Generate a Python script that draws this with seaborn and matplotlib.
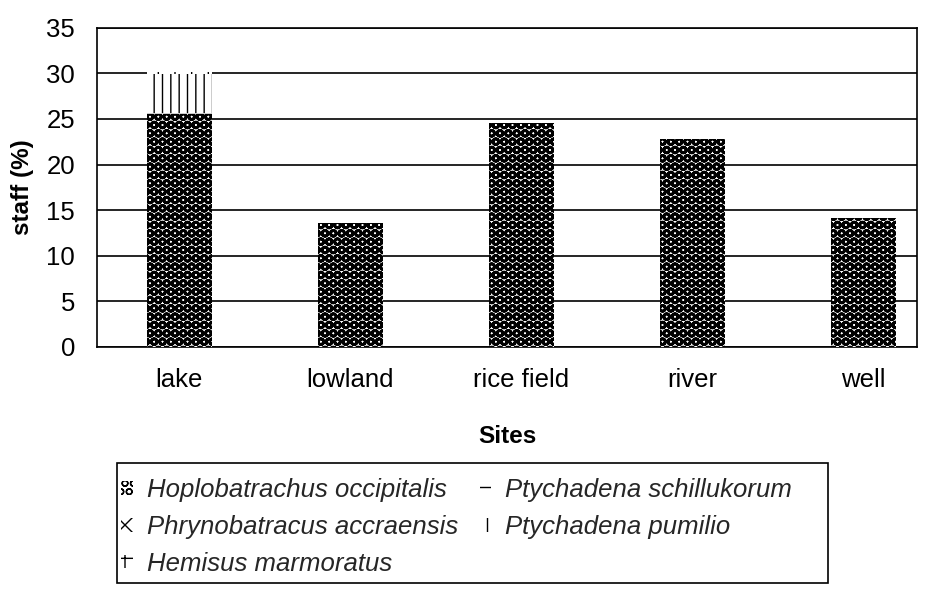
import matplotlib
matplotlib.use("Agg")
import matplotlib.pyplot as plt
import seaborn as sns
import pandas as pd
import numpy as np
from matplotlib.patches import Patch, Rectangle

sites = ["lake", "lowland", "rice field", "river", "well"]
species = ["Hoplobatrachus occipitalis", "Ptychadena schillukorum",
           "Phrynobatracus accraensis", "Ptychadena pumilio", "Hemisus marmoratus"]
hoplobatrachus = [25.5, 13.6, 24.6, 22.8, 14.1]
schillukorum = [0.2, 0.0, 0.1, 0.0, 0.0]
phrynobatracus = [0.0, 0.0, 0.0, 0.0, 0.0]
pumilio = [4.2, 0.0, 0.0, 0.0, 0.0]
hemisus = [0.3, 0.0, 0.0, 0.0, 0.0]

series = [hoplobatrachus, schillukorum, phrynobatracus, pumilio, hemisus]
hatches = ["OO", "--", "xx", "||", "+"]
hlw = [2.0, 1.0, 1.0, 1.0, 1.0]

sns.set_theme(style="white")
plt.rcParams["font.family"] = ["Liberation Sans", "DejaVu Sans"]
plt.rcParams["hatch.linewidth"] = 1.0

fig = plt.figure(figsize=(9.34, 5.92), dpi=100)
ax = fig.add_axes([0.104, 0.414, 0.878, 0.539])

cum = np.cumsum(np.array(series), axis=0)
for i in range(len(series) - 1, -1, -1):
    df = pd.DataFrame({"site": sites, "value": cum[i]})
    sns.barplot(data=df, x="site", y="value", ax=ax, color="white",
                width=0.38, hatch=hatches[i], edgecolor="black", linewidth=0,
                zorder=3)
    for bar in ax.containers[-1]:
        try:
            bar.set_hatch_linewidth(hlw[i])
        except AttributeError:
            pass

ax.set_xlim(-0.48, 4.316)
ax.set_ylim(0, 35)
ax.set_yticks(range(0, 36, 5))
ax.yaxis.grid(True, color="black", linewidth=1.2, zorder=0)
ax.set_axisbelow(True)
for s in ax.spines.values():
    s.set_color("black")
    s.set_linewidth(1.2)
ax.tick_params(axis="x", labelsize=18.5, colors="black", length=0, pad=15)
ax.tick_params(axis="y", labelsize=18.5, colors="black", length=0, pad=16)
ax.set_xlabel("Sites", fontsize=17.5, fontweight="bold", labelpad=24, color="black")
ax.set_ylabel("staff (%)", fontsize=17.5, fontweight="bold", labelpad=9, color="black")

handles = []
for i in range(5):
    p = Patch(facecolor="white", hatch=hatches[i], edgecolor="black",
              linewidth=0, label=species[i])
    try:
        p.set_hatch_linewidth(hlw[i])
    except AttributeError:
        pass
    handles.append(p)
order = [0, 2, 4, 1, 3]
leg = fig.legend([handles[i] for i in order], [species[i] for i in order],
                 ncol=2, loc="upper left",
                 bbox_to_anchor=(121 / 934, 1 - 478 / 592),
                 frameon=False,
                 prop={"size": 18.5, "style": "italic"},
                 handlelength=0.45, handleheight=0.45, handletextpad=0.55,
                 borderaxespad=0, labelspacing=0.5, borderpad=0,
                 columnspacing=0.85)
fig.add_artist(Rectangle((117 / 934, 9 / 592), 711 / 934, 120 / 592,
                         transform=fig.transFigure, fill=False,
                         edgecolor="black", linewidth=1.2))

fig.savefig("out.png", dpi=100)
